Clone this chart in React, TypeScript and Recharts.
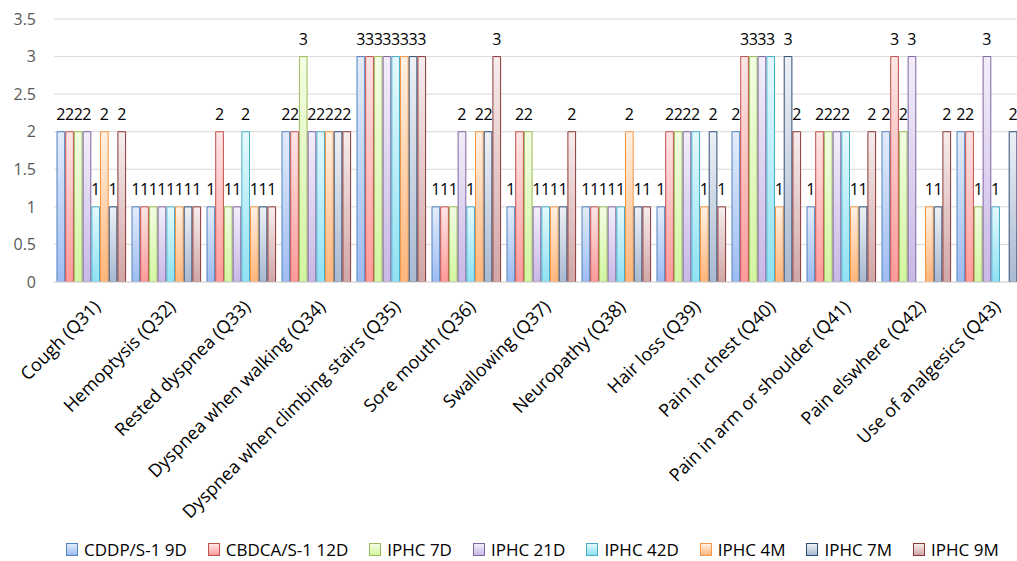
import React from 'react';
import { BarChart, Bar, XAxis, YAxis, CartesianGrid, Legend, LabelList } from 'recharts';

const categories = [
  'Cough (Q31)',
  'Hemoptysis (Q32)',
  'Rested dyspnea (Q33)',
  'Dyspnea when walking (Q34)',
  'Dyspnea when climbing stairs (Q35)',
  'Sore mouth (Q36)',
  'Swallowing (Q37)',
  'Neuropathy (Q38)',
  'Hair loss (Q39)',
  'Pain in chest (Q40)',
  'Pain in arm or shoulder (Q41)',
  'Pain elswhere (Q42)',
  'Use of analgesics (Q43)',
];

const cddp9D = [2, 1, 1, 2, 3, 1, 1, 1, 1, 2, 1, 2, 2];
const cbdca12D = [2, 1, 2, 2, 3, 1, 2, 1, 2, 3, 2, 3, 2];
const iphc7D = [2, 1, 1, 3, 3, 1, 2, 1, 2, 3, 2, 2, 1];
const iphc21D = [2, 1, 1, 2, 3, 2, 1, 1, 2, 3, 2, 3, 3];
const iphc42D = [1, 1, 2, 2, 3, 1, 1, 1, 2, 3, 2, null, 1];
const iphc4M = [2, 1, 1, 2, 3, 2, 1, 2, 1, 1, 1, 1, null];
const iphc7M = [1, 1, 1, 2, 3, 2, 1, 1, 2, 3, 1, 1, 2];
const iphc9M = [2, 1, 1, 2, 3, 3, 2, 1, 1, 2, 2, 2, 1];

const yTicks = [0, 0.5, 1, 1.5, 2, 2.5, 3, 3.5];

const series = [
  { key: 's1', name: 'CDDP/S-1 9D', values: cddp9D, stroke: '#4f81bd', top: '#e3ecfb', bottom: '#9ebcf2' },
  { key: 's2', name: 'CBDCA/S-1 12D', values: cbdca12D, stroke: '#c0504d', top: '#ffe6e6', bottom: '#ff9a9a' },
  { key: 's3', name: 'IPHC 7D', values: iphc7D, stroke: '#9bbb59', top: '#f3fde3', bottom: '#d3f5a0' },
  { key: 's4', name: 'IPHC 21D', values: iphc21D, stroke: '#8064a2', top: '#f3eefa', bottom: '#c8b8e6' },
  { key: 's5', name: 'IPHC 42D', values: iphc42D, stroke: '#4bacc6', top: '#e4f9fd', bottom: '#8fe1f3' },
  { key: 's6', name: 'IPHC 4M', values: iphc4M, stroke: '#f79646', top: '#fff1e3', bottom: '#ffb57a' },
  { key: 's7', name: 'IPHC 7M', values: iphc7M, stroke: '#2c4d75', top: '#eef1f6', bottom: '#a9b9d0' },
  { key: 's8', name: 'IPHC 9M', values: iphc9M, stroke: '#8c3836', top: '#f7eded', bottom: '#d1a6a6' },
];

const data = categories.map((c, i) => {
  const row: any = { name: c };
  series.forEach((s) => {
    row[s.key] = s.values[i];
  });
  return row;
});

const FONT = '"Open Sans", sans-serif';

const CatTick = (props: any) => {
  const { x, y, payload } = props;
  const ax = x + 10;
  const ay = y + 18;
  return (
    <text
      x={ax}
      y={ay}
      transform={`rotate(-45 ${ax} ${ay})`}
      textAnchor="end"
      fontSize={18}
      fontFamily={FONT}
      fill="#000"
    >
      {payload.value}
    </text>
  );
};

const LegendContent = () => (
  <div
    style={{
      display: 'flex',
      flexDirection: 'row',
      alignItems: 'center',
      justifyContent: 'flex-start',
      fontFamily: FONT,
      fontSize: 17,
      color: '#000',
      height: 39,
    }}
  >
    {series.map((s) => (
      <div key={s.key} style={{ display: 'flex', alignItems: 'center', marginRight: 21 }}>
        <div
          style={{
            width: 10,
            height: 11,
            border: `1px solid ${s.stroke}`,
            background: `linear-gradient(${s.top}, ${s.bottom})`,
            marginRight: 6,
          }}
        />
        <span style={{ whiteSpace: 'nowrap' }}>{s.name}</span>
      </div>
    ))}
  </div>
);

const fmt = (v: any) => (v === null || v === undefined || v === 0 ? '' : String(v));

export default function App() {
  return (
    <div style={{ position: 'absolute', left: 0, top: 0, width: 1017, height: 561, overflow: 'hidden', background: '#fff' }}>
      <BarChart
        width={1040}
        height={561}
        data={data}
        margin={{ top: 19, right: 11, left: 0, bottom: 0 }}
        barCategoryGap={2}
        barGap={1}
      >
        <defs>
          {series.map((s) => (
            <linearGradient key={s.key} id={`g-${s.key}`} x1="0" y1="0" x2="0" y2="1">
              <stop offset="0%" stopColor={s.top} />
              <stop offset="100%" stopColor={s.bottom} />
            </linearGradient>
          ))}
        </defs>
        <CartesianGrid vertical={false} stroke="#d9d9d9" strokeWidth={1} />
        <XAxis
          dataKey="name"
          interval={0}
          tick={<CatTick />}
          tickLine={false}
          axisLine={{ stroke: '#d9d9d9' }}
          height={240}
        />
        <YAxis
          domain={[0, 3.5]}
          ticks={yTicks}
          width={54}
          axisLine={false}
          tickLine={false}
          tickSize={0}
          tickMargin={18}
          tick={{ fontSize: 16, fontFamily: FONT, fill: '#595959' }}
          allowDataOverflow
        />
        <Legend
          verticalAlign="bottom"
          content={<LegendContent />}
          wrapperStyle={{ left: 66, top: 530, width: 960, height: 39 }}
        />
        {series.map((s) => (
          <Bar
            key={s.key}
            dataKey={s.key}
            name={s.name}
            fill={`url(#g-${s.key})`}
            stroke={s.stroke}
            strokeWidth={1}
            barSize={7.7}
            isAnimationActive={false}
          >
            <LabelList
              dataKey={s.key}
              position="top"
              offset={12}
              formatter={fmt}
              style={{ fontSize: 16, fontFamily: FONT, fill: '#000' }}
            />
          </Bar>
        ))}
      </BarChart>
    </div>
  );
}
